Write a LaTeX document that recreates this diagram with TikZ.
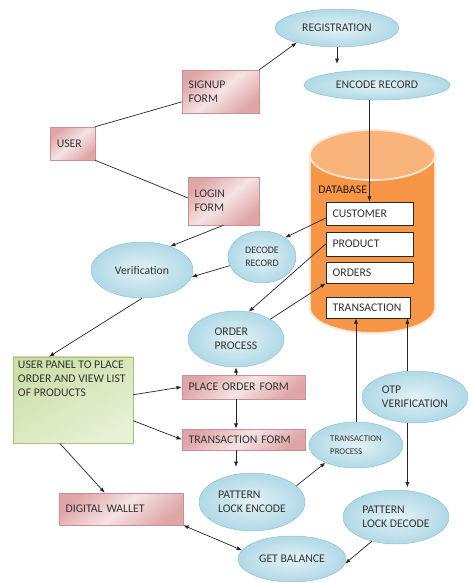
\documentclass[tikz,border=0pt]{standalone}
\usepackage{fontspec}
\setmainfont{Carlito}
\usetikzlibrary{shapes.geometric,arrows.meta,shadows}

\definecolor{txt}{HTML}{333333}
\definecolor{formdark}{HTML}{DFA6A8}
\definecolor{formlight}{HTML}{F6E3E3}
\definecolor{formedge}{HTML}{CD9092}
\definecolor{proclight}{HTML}{E4F2F7}
\definecolor{procdark}{HTML}{B0D9E6}
\definecolor{procedge}{HTML}{8CC0D2}
\definecolor{paneldark}{HTML}{CCDFA8}
\definecolor{panellight}{HTML}{E8F0D6}
\definecolor{paneledge}{HTML}{A9C07E}
\definecolor{dbbody}{HTML}{F79646}
\definecolor{dbtop}{HTML}{F9B47C}
\definecolor{dbedge}{HTML}{FCE6D6}

\begin{document}
\begin{tikzpicture}[x=0.03cm, y=-0.03cm, font=\fontsize{10}{12}\selectfont, >={Latex[length=4.5pt,width=3.5pt]}]

% Styles
\tikzstyle{form}   = [rectangle, draw=formedge, line width=0.4pt, top color=formdark, bottom color=formdark, middle color=formlight, shading angle=40, drop shadow={opacity=0.3, shadow xshift=1.2pt, shadow yshift=-1.2pt}, inner xsep=0.2cm, align=left, text=txt]
\tikzstyle{panel}  = [rectangle, draw=paneledge, line width=0.4pt, top color=paneldark, bottom color=panellight, shading angle=30, drop shadow={opacity=0.3, shadow xshift=1.2pt, shadow yshift=-1.2pt}, inner xsep=0.15cm, text=txt]
\tikzstyle{proc}   = [ellipse, draw=procedge, line width=0.4pt, inner color=proclight, outer color=procdark, inner sep=0pt, align=left, text=txt]
\tikzstyle{record} = [rectangle, draw=black!85, line width=0.6pt, fill=white, inner xsep=0.2cm, align=left, text=txt]
\tikzstyle{conn}   = [draw=black!85, line width=0.6pt]

\useasboundingbox (0,0) rectangle (469,583);

% Database
\fill [dbbody] (310,155) -- (310,308) arc [start angle=180, end angle=360, x radius=1.875cm, y radius=0.75cm] -- (435,155) -- cycle;
\draw [dbedge, line width=1.5pt] (310,155) -- (310,308) arc [start angle=180, end angle=360, x radius=1.875cm, y radius=0.75cm] -- (435,155);
\draw [dbedge, line width=1.5pt, fill=dbtop] (372.5,155) ellipse [x radius=1.875cm, y radius=0.75cm];
\node [anchor=west, inner sep=1pt, text=black!80!brown] (dblabel) at (317,190) {DATABASE};

% Nodes
\node [form, text width=0.94cm, minimum height=0.99cm] (user) at (72.5,143.5) {USER};
\node [form, text width=1.91cm, minimum height=1.29cm] (signup) at (220.5,91.5) {SIGNUP\\FORM};
\node [form, text width=1.73cm, minimum height=1.44cm] (login) at (223.5,201) {LOGIN\\FORM};
\node [proc, minimum width=3.72cm, minimum height=1.14cm] (registration) at (337,28) {REGISTRATION};
\node [proc, minimum width=4.38cm, minimum height=0.9cm] (encode) at (377,85) {ENCODE RECORD};

\node [record, text width=2.21cm, minimum height=0.69cm] (customer) at (369.5,213.5) {CUSTOMER};
\node [record, text width=2.21cm, minimum height=0.72cm] (product) at (369.5,244) {PRODUCT};
\node [record, text width=2.21cm, minimum height=0.63cm] (orders) at (369.5,272.5) {ORDERS};
\node [record, text width=2.12cm, minimum height=0.63cm] (transaction) at (368,307.5) {TRANSACTION};

\node [proc, minimum width=2.04cm, minimum height=1.56cm, font=\fontsize{8.5}{11}\selectfont, align=center] (decode) at (262,257) {DECODE\\RECORD};
\node [proc, minimum width=3.06cm, minimum height=1.68cm] (verification) at (142,270) {Verification};
\node [proc, minimum width=2.88cm, minimum height=1.68cm] (orderproc) at (236,339) {ORDER\\PROCESS};

\node [panel] (userpanel) at (73,400) {\parbox[c][2.35cm][t]{3.3cm}{\raggedright USER PANEL TO PLACE\\ORDER AND VIEW LIST\\OF PRODUCTS}};
\node [form, text width=3.29cm, minimum height=0.72cm] (placeorder) at (243.5,387) {PLACE ORDER FORM};
\node [form, text width=3.29cm, minimum height=0.63cm] (transform) at (243.5,439.5) {TRANSACTION FORM};
\node [form, text width=3.32cm, minimum height=0.96cm] (wallet) at (121,509) {DIGITAL WALLET};

\node [proc, minimum width=2.82cm, minimum height=1.38cm, font=\fontsize{7.5}{11}\selectfont] (tproc) at (356,445) {TRANSACTION\\PROCESS};
\node [proc, minimum width=3.18cm, minimum height=1.56cm] (otp) at (415,397) {OTP\\VERIFICATION};
\node [proc, minimum width=3.18cm, minimum height=1.74cm] (pencode) at (252,502) {PATTERN\\LOCK ENCODE};
\node [proc, minimum width=3.18cm, minimum height=1.62cm] (pdecode) at (396,517) {PATTERN\\LOCK DECODE};
\node [proc, minimum width=3.24cm, minimum height=1.38cm] (balance) at (292,559) {GET BALANCE};

% Connections
\draw [conn] (user.north east) -- (signup.195);
\draw [conn, ->] (signup.north east) -- (registration.200);
\draw [conn, ->, shorten >=5pt] (registration.south) -- (registration.south |- encode.north);
\draw [conn, ->] (customer.north |- encode.south) -- (customer.north);
\draw [conn] (user.south east) -- (login.175);
\draw [conn, ->] (login.south) -- (verification.40);
\draw [conn, ->] (customer.186) -- (decode.40);
\draw [conn, ->] (decode.195) -- (verification.352);
\draw [conn, ->] (verification.south) -- (userpanel.119);
\draw [conn, ->] (product.west) -- (orderproc.65);
\draw [conn, ->] (orderproc.30) -- (orders.south west);
\draw [conn, ->] (orderproc.south |- placeorder.north) -- (orderproc.south);
\draw [conn, ->] (orderproc.south |- placeorder.south) -- (orderproc.south |- transform.north);
\draw [conn, ->, shorten >=5pt] (orderproc.south |- transform.south) -- (orderproc.south |- pencode.north);
\draw [conn, ->] (userpanel.5) -- (placeorder.west);
\draw [conn, ->] (userpanel.341) -- (transform.west);
\draw [conn, ->] (userpanel.253) -- (wallet.135);
\draw [conn, ->] (pencode.20) -- (tproc.210);
\draw [conn, ->] (tproc.north) -- (tproc.north |- transaction.south);
\coordinate (otpx) at ([xshift=-2.5pt]transaction.south east);
\draw [conn, ->] (otpx |- otp.north) -- (otpx);
\draw [conn, ->, shorten >=2pt] (otpx |- otp.south) -- (otpx |- pdecode.north);
\draw [conn, ->] (pdecode.225) -- (balance.355);
\draw [conn, <->] (wallet.south east) -- (balance.170);

\end{tikzpicture}
\end{document}
